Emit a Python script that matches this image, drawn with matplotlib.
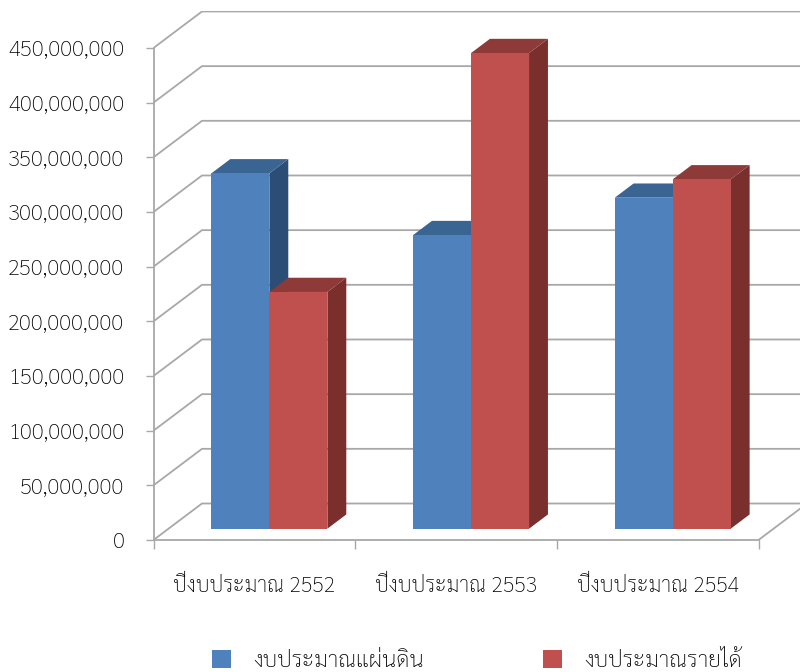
import matplotlib
matplotlib.use('Agg')
import matplotlib.pyplot as plt
from matplotlib.patches import Polygon, Patch
from matplotlib.ticker import StrMethodFormatter

plt.rcParams['font.family'] = ['Sarabun', 'DejaVu Sans']
plt.rcParams['font.weight'] = 'light'

categories = ['ปีงบประมาณ 2552', 'ปีงบประมาณ 2553', 'ปีงบประมาณ 2554']
series_names = ['งบประมาณแผ่นดิน', 'งบประมาณรายได้']
land_budget = [325000000, 268500000, 302700000]
income_budget = [216500000, 435000000, 319500000]
y_ticks = list(range(0, 500000000, 50000000))

BLUE = ('#4F81BD', '#3A6592', '#2C4D75')  # front, top, side
RED = ('#C0504D', '#8E3A38', '#7A2F2D')
GRID = '#A8A8A8'
TEXT = '#000000'

W, H = 800, 672
PX_X = 201.67        # pixels per category
PX_Y = 54.67 / 50e6  # pixels per unit of value

# depth of the 3d box, in data units
depth_x = 48.5 / PX_X
depth_y = 36.5 / PX_Y
bar_w = 58 / PX_X
bar_z0 = 0.31
bar_z1 = 0.70

fig = plt.figure(figsize=(W / 100, H / 100), dpi=100)
left, bottom = 153.5, 540
ax = fig.add_axes([left / W, (H - bottom) / H, (W - left) / W, (bottom - 11) / H])
ax.set_xlim(0, (W - left) / PX_X)
ax.set_ylim(0, (bottom - 11) / PX_Y)


def proj(x, v, z):
    return (x + z * depth_x, v + z * depth_y)


# wall and floor lines
wall_end = 3 + depth_x
for v in y_ticks:
    x0, y0 = proj(0, v, 0)
    x1, y1 = proj(0, v, 1)
    ax.plot([x0, x1, wall_end], [y0, y1, y1], color=GRID, lw=1.3, zorder=1)
x0, y0 = proj(3, 0, 0)
x1, y1 = proj(3, 0, 1)
ax.plot([x0, x1], [y0, y1], color=GRID, lw=1.3, zorder=1)


def draw_bar(x, val, cols, z):
    a = x
    b = x + bar_w
    fr = [proj(a, 0, bar_z0), proj(b, 0, bar_z0), proj(b, val, bar_z0), proj(a, val, bar_z0)]
    top = [proj(a, val, bar_z0), proj(b, val, bar_z0), proj(b, val, bar_z1), proj(a, val, bar_z1)]
    side = [proj(b, 0, bar_z0), proj(b, 0, bar_z1), proj(b, val, bar_z1), proj(b, val, bar_z0)]
    ax.add_patch(Polygon(side, fc=cols[2], ec='none', zorder=z))
    ax.add_patch(Polygon(top, fc=cols[1], ec='none', zorder=z))
    ax.add_patch(Polygon(fr, fc=cols[0], ec='none', zorder=z + 0.1))


for i in range(len(categories)):
    c = i + 0.5 - bar_w
    draw_bar(c, land_budget[i], BLUE, 3 + i)
    draw_bar(c + bar_w, income_budget[i], RED, 3.5 + i)

# axes
for s in ['top', 'right']:
    ax.spines[s].set_visible(False)
for s in ['left', 'bottom']:
    ax.spines[s].set_color(GRID)
    ax.spines[s].set_linewidth(1.3)
ax.spines['left'].set_bounds(0, 450000000)
ax.spines['bottom'].set_bounds(0, 3)
ax.patch.set_visible(False)

ax.set_yticks(y_ticks)
ax.yaxis.set_major_formatter(StrMethodFormatter('{x:,.0f}'))
ax.set_xticks([0, 1, 2, 3])
ax.set_xticklabels([])
ax.set_xticks([0.5, 1.5, 2.5], minor=True)
ax.set_xticklabels(categories, minor=True)
ax.tick_params(axis='y', length=6, width=1, color=GRID, labelsize=16, labelcolor=TEXT, pad=15)
ax.tick_params(axis='x', which='major', length=6.5, width=1, color=GRID)
ax.tick_params(axis='x', which='minor', length=0, labelsize=15.5, labelcolor=TEXT, pad=26)

handles = [Patch(fc=BLUE[0], ec='none'), Patch(fc=RED[0], ec='none')]
fig.legend(handles, series_names, loc='lower left',
           bbox_to_anchor=(212 / W, 0), frameon=False, ncol=2, fontsize=16.4,
           labelcolor=TEXT, borderpad=0, borderaxespad=0,
           handlelength=0.835, handleheight=0.79, handletextpad=1.0, columnspacing=5.18)

fig.savefig('out.png', dpi=100)
